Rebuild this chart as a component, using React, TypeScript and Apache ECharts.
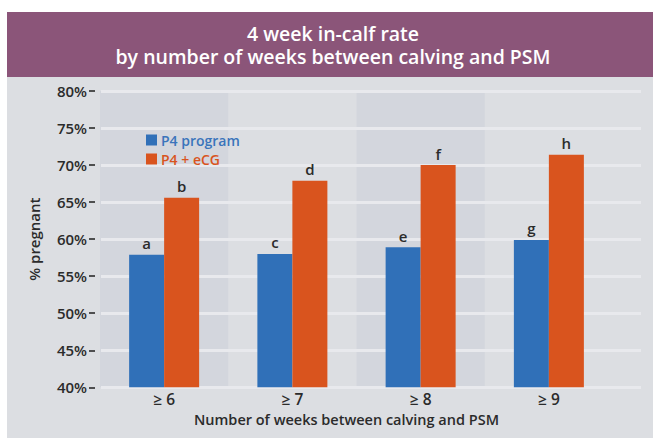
import React, { useEffect, useRef } from "react";
import * as echarts from "echarts";

const categories = ["≥ 6", "≥ 7", "≥ 8", "≥ 9"];
const p4Program = [57.9, 58.0, 58.9, 59.9];
const p4eCG = [65.6, 67.9, 70.0, 71.4];
const p4Letters = ["a", "c", "e", "g"];
const eCGLetters = ["b", "d", "f", "h"];
const yMin = 40;
const yMax = 80;
const yStep = 5;

const FONT = "'Open Sans', 'DejaVu Sans', sans-serif";
const DARK = "#2b2b2b";

export default function App() {
  const ref = useRef<HTMLDivElement>(null);
  useEffect(() => {
    if (!ref.current) return;
    const chart = echarts.init(ref.current, null, { renderer: "svg" });
    const labelStyle = {
      show: true,
      position: "top" as const,
      distance: 4,
      color: DARK,
      fontFamily: FONT,
      fontSize: 15,
      fontWeight: 600,
    };
    chart.setOption({
      animation: false,
      backgroundColor: "#ffffff",
      textStyle: { fontFamily: FONT },
      graphic: [
        {
          type: "rect",
          shape: { x: 7, y: 12, width: 646, height: 65 },
          style: { fill: "#8b5579" },
          z: -10,
        },
        {
          type: "rect",
          shape: { x: 7, y: 77, width: 646, height: 361 },
          style: { fill: "#dcdee2" },
          z: -10,
        },
        {
          type: "text",
          x: 333,
          y: 45,
          style: {
            text: "4 week in-calf rate\nby number of weeks between calving and PSM",
            fill: "#ffffff",
            fontFamily: FONT,
            fontSize: 19.5,
            fontWeight: 600,
            lineHeight: 23,
            textAlign: "center",
            textVerticalAlign: "middle",
          },
        },
      ],
      legend: {
        left: 146,
        top: 133,
        padding: 0,
        orient: "vertical",
        itemWidth: 11,
        itemHeight: 11,
        itemGap: 5,
        icon: "rect",
        textStyle: { fontFamily: FONT, fontSize: 14, fontWeight: 600, padding: [0, 0, 0, -1] },
        data: [
          { name: "P4 program", textStyle: { color: "#3a74bb" } },
          { name: "P4 + eCG", textStyle: { color: "#d9541e" } },
        ],
      },
      grid: [
        { left: 100, right: 40, top: 91, bottom: 50.7 },
        { left: 101, right: 12, top: 91, bottom: 50.7 },
      ],
      xAxis: [
        {
          type: "category",
          gridIndex: 0,
          data: categories,
          z: 0,
          axisLine: { show: false },
          axisTick: { show: false },
          axisLabel: {
            margin: 4,
            color: DARK,
            fontFamily: FONT,
            fontSize: 15.5,
            fontWeight: 600,
          },
          splitArea: {
            show: true,
            areaStyle: { color: ["#d3d6dd", "rgba(0,0,0,0)"] },
          },
          name: "Number of weeks between calving and PSM",
          nameLocation: "middle",
          nameGap: 25,
          nameMoveOverlap: false,
          nameTextStyle: {
            color: DARK,
            fontFamily: FONT,
            fontSize: 14.5,
            fontWeight: 600,
            padding: [0, 20, 0, 0],
          },
        },
        {
          type: "category",
          gridIndex: 1,
          data: categories,
          show: false,
        },
      ],
      yAxis: [
        {
          type: "value",
          gridIndex: 0,
          min: yMin,
          max: yMax,
          interval: yStep,
          show: false,
          splitLine: { show: false },
        },
        {
          type: "value",
          gridIndex: 1,
          min: yMin,
          max: yMax,
          interval: yStep,
          offset: 6,
          z: 1,
          axisLine: { show: true, lineStyle: { color: "rgba(0,0,0,0)" } },
          axisTick: { show: true, length: 6, lineStyle: { color: DARK, width: 1.6 } },
          axisLabel: {
            margin: 8,
            color: DARK,
            fontFamily: FONT,
            fontSize: 15,
            fontWeight: 600,
            formatter: "{value}%",
          },
          splitLine: { show: true, lineStyle: { color: "#e8e9ed", width: 3 } },
          name: "% pregnant",
          nameLocation: "middle",
          nameGap: 54,
          nameMoveOverlap: false,
          nameTextStyle: {
            color: DARK,
            fontFamily: FONT,
            fontSize: 15,
            fontWeight: 600,
          },
        },
      ],
      series: [
        {
          name: "P4 program",
          type: "bar",
          xAxisIndex: 0,
          yAxisIndex: 0,
          data: p4Program,
          barWidth: 35,
          barGap: "0%",
          z: 3,
          itemStyle: { color: "#3070b8" },
          label: { ...labelStyle, formatter: (p: any) => p4Letters[p.dataIndex] },
        },
        {
          name: "P4 + eCG",
          type: "bar",
          xAxisIndex: 0,
          yAxisIndex: 0,
          data: p4eCG,
          barWidth: 35,
          barGap: "0%",
          z: 3,
          itemStyle: { color: "#d9541e" },
          label: { ...labelStyle, formatter: (p: any) => eCGLetters[p.dataIndex] },
        },
      ],
    });
    return () => chart.dispose();
  }, []);
  return (
    <div
      ref={ref}
      style={{ position: "absolute", left: 0, top: 0, width: 653, height: 438 }}
    />
  );
}
